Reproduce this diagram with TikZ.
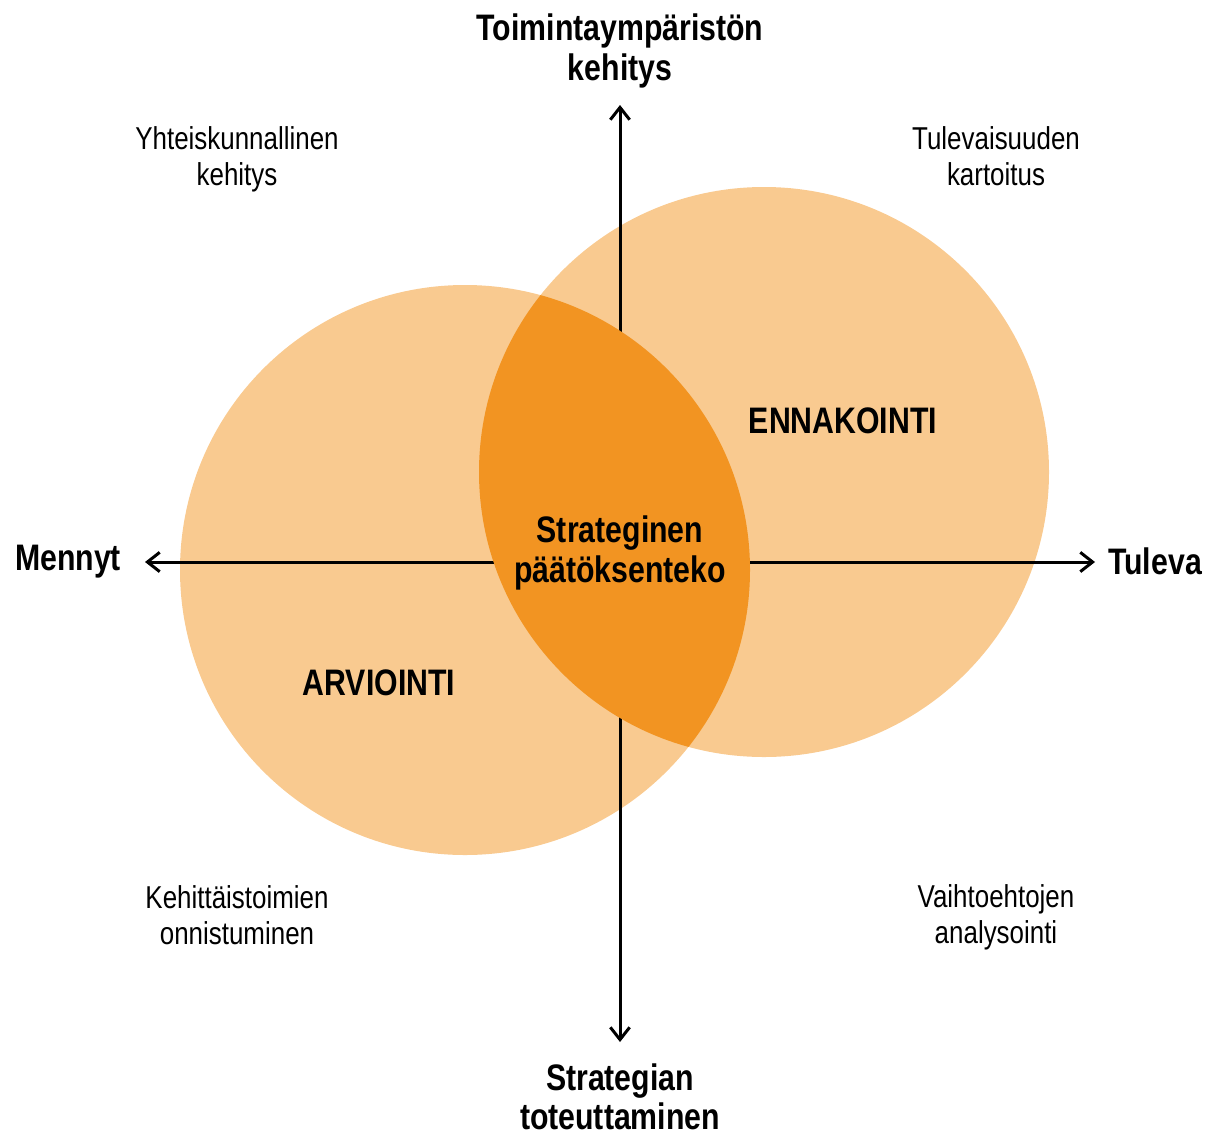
\documentclass[tikz,border=0pt]{standalone}
\usepackage{fontspec}
\setmainfont{Liberation Sans}[FakeStretch=0.82]
\usetikzlibrary{arrows.meta}
\usetikzlibrary{positioning}
\definecolor{lightorange}{HTML}{F9CA90}
\definecolor{darkorange}{HTML}{F29422}

\begin{document}
\begin{tikzpicture}
	[x=0.02cm,y=-0.02cm,
	 axis/.style={line width=1.7pt,{Straight Barb[length=7pt,width=11pt]}-{Straight Barb[length=7pt,width=11pt]}},
	 heading/.style={font=\fontsize{21}{22.5}\selectfont\bfseries,align=center,inner sep=0pt},
	 corner/.style={font=\fontsize{18}{20.5}\selectfont,align=center,inner sep=0pt}]
	\useasboundingbox (0,0) rectangle (1210,1133);
	% circles
	\fill[lightorange] (465,570) circle (285);
	\fill[lightorange] (764,472) circle (285);
	% axes
	\coordinate (up) at (620,105);
	\coordinate (down) at (620,1042);
	\coordinate (past) at (145,562);
	\coordinate (future) at (1095,562);
	\draw[axis] (down) -- (up);
	\draw[axis] (past) -- (future);
	% lens
	\begin{scope}
		\clip (465,570) circle (285);
		\fill[darkorange] (764,472) circle (285);
	\end{scope}
	% labels
	\node[heading] (ymparisto) at (620,51) {Toimintaympäristön\\kehitys};
	\node[heading] (toteutus) at (620,1097) {Strategian\\toteuttaminen};
	\node[heading] (mennyt) at (68,562) {Mennyt};
	\node[heading] (tuleva) at (1155,561) {Tuleva};
	\node[heading] (paatos) at (620,553) {Strateginen\\päätöksenteko};
	\node[heading] (ennakointi) at (843,421) {ENNAKOINTI};
	\node[heading] (arviointi) at (379,683) {ARVIOINTI};
	\node[corner] (yhteiskunta) at (237,159) {Yhteiskunnallinen\\kehitys};
	\node[corner] (kartoitus) at (996,156) {Tulevaisuuden\\kartoitus};
	\node[corner] (onnistuminen) at (237,915) {Kehittäistoimien\\onnistuminen};
	\node[corner] (analysointi) at (996,917) {Vaihtoehtojen\\analysointi};
\end{tikzpicture}
\end{document}
